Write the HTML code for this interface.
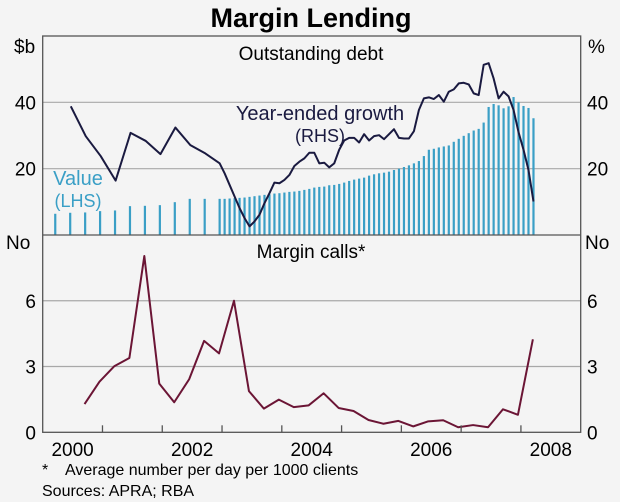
<!DOCTYPE html>
<html><head><meta charset="utf-8"><style>
html,body{margin:0;padding:0;background:#f4f4f4;}
svg{display:block;font-family:"Liberation Sans",Arial,sans-serif;}
</style></head><body>
<svg id="chart" width="620" height="502" viewBox="0 0 620 502">
<rect x="0" y="0" width="620" height="502" fill="#f4f4f4"/>
<text x="311" y="27" text-anchor="middle" font-size="27" font-weight="bold" fill="#000">Margin Lending</text>
<g id="grid"></g>
<g id="bars"></g>
<g id="lines"></g>
<g id="frame"></g>
<g id="labels">
<text x="14" y="53" font-size="19">$b</text>
<text x="588" y="53" font-size="19">%</text>
<text x="6" y="249" font-size="19">No</text>
<text x="585" y="249" font-size="19">No</text>
<text x="311" y="60" text-anchor="middle" font-size="19">Outstanding debt</text>
<text x="320" y="120" text-anchor="middle" font-size="20" fill="#1a1a40">Year-ended growth</text>
<text x="320" y="142" text-anchor="middle" font-size="18" fill="#1a1a40">(RHS)</text>
<text x="78" y="185" text-anchor="middle" font-size="20" fill="#3a9fc6">Value</text>
<text x="78" y="207" text-anchor="middle" font-size="18" fill="#3a9fc6">(LHS)</text>
<text x="311" y="258" text-anchor="middle" font-size="19">Margin calls*</text>
<text x="42" y="475" font-size="16">*</text>
<text x="65" y="475" font-size="16">Average number per day per 1000 clients</text>
<text x="42" y="496" font-size="16">Sources: APRA; RBA</text>
</g>
</svg>
<script>
// ---- data ----
const topTicks = [20, 40];
const bottomTicks = [0, 3, 6];
const yearLabels = [2000, 2002, 2004, 2006, 2008];
const yearTicks = [2001, 2002, 2003, 2004, 2005, 2006, 2007, 2008];
const valueQuarterStart = 2000.21;
const valueQuarterly = [6.4, 6.7, 6.8, 7.2, 7.4, 8.7, 8.8, 9.0, 9.9, 10.9, 10.9];
const monthlyStart = 2002.96;
const valueMonthly = [10.9,10.9,11.0,11.1,11.2,11.3,11.5,11.7,11.9,12.1,12.3,12.5,12.6,12.8,13.0,13.1,
13.3,13.6,13.9,14.3,14.5,14.6,15.0,15.1,15.4,15.8,16.3,16.7,17.0,17.3,17.9,18.3,18.6,18.8,19.1,19.6,
20.0,20.5,21.0,21.6,22.3,23.8,25.7,26.0,26.4,26.7,27.0,28.1,29.0,29.9,30.7,31.5,32.0,33.9,38.6,39.5,
39.1,38.2,38.8,41.6,40.0,38.9,38.3,35.2];
const growthQuarterStart = 2000.47;
const growthQuarterly = [38.8, 29.8, 23.8, 16.4, 30.8, 28.4, 24.4, 32.4, 27.1, 24.6];
const growthMonthly = [21.6,18.6,15.1,11.6,8.1,5.1,2.6,4.1,6.1,9.6,12.6,15.8,15.6,16.6,18.1,20.8,
22.1,23.1,24.8,24.8,21.6,21.8,20.4,21.6,25.7,28.5,29.3,29.3,27.9,30.4,28.5,29.8,30.1,28.9,30.4,31.9,
29.3,29.1,29.1,31.3,37.7,41.2,41.5,41.0,42.2,40.2,43.2,43.9,45.7,45.9,45.4,42.7,42.2,51.3,51.8,47.2,
41.2,43.2,41.8,37.7,31.0,25.7,19.6,10.1];
const callsStart = 2000.7;
const marginCalls = [1.29,2.31,3.02,3.39,8.04,2.22,1.37,2.42,4.17,3.60,6.0,1.88,1.08,1.49,1.15,1.23,
1.78,1.11,0.97,0.56,0.39,0.52,0.27,0.50,0.55,0.23,0.33,0.23,1.05,0.80,4.24];

// ---- axes ----
const L = 42.7, R = 580.7, T = 36, MID = 235, B = 432.3;
const NS = "http://www.w3.org/2000/svg";
function X(yr){ return L + (yr - 2000) / 9 * (R - L); }
function YT(v){ return MID - v / 60 * (MID - T); }
function YB(v){ return B - v / 9 * (B - MID); }
function mk(tag, attrs, parent){
  const e = document.createElementNS(NS, tag);
  for (const k in attrs) e.setAttribute(k, attrs[k]);
  document.getElementById(parent).appendChild(e);
  return e;
}
topTicks.forEach(v => {
  const g = mk('line', {x1:L, x2:R, y1:YT(v), y2:YT(v), stroke:'#a8a8a8', 'stroke-width':1.2}, 'grid');
  
  
  const a = mk('text', {x:36, y:YT(v)+7, 'text-anchor':'end', 'font-size':19}, 'labels');
  a.textContent = v;
  
  
  const b = mk('text', {x:587, y:YT(v)+7, 'font-size':19}, 'labels');
  b.textContent = v;
  
  
});
bottomTicks.forEach(v => {
  if (v > 0) {
    const g = mk('line', {x1:L, x2:R, y1:YB(v), y2:YB(v), stroke:'#a8a8a8', 'stroke-width':1.2}, 'grid');
    
    
  }
  const a = mk('text', {x:36, y:YB(v)+7, 'text-anchor':'end', 'font-size':19}, 'labels');
  a.textContent = v;
  
  
  const b = mk('text', {x:587, y:YB(v)+7, 'font-size':19}, 'labels');
  b.textContent = v;
  
  
});
function bar(yr, v){
  const r = mk('rect', {x:X(yr)-1.1, y:YT(v), width:2.2, height:MID-YT(v), fill:'#3a9fc6'}, 'bars');
  
  
}
valueQuarterly.forEach((v,i) => bar(valueQuarterStart + 0.25*i, v));
valueMonthly.forEach((v,i) => bar(monthlyStart + i/12, v));
const gp = [];
growthQuarterly.forEach((v,i) => gp.push([X(growthQuarterStart + 0.25*i), YT(v)]));
growthMonthly.forEach((v,i) => gp.push([X(monthlyStart + i/12), YT(v)]));
const gl = mk('polyline', {points: gp.map(p => p.join(',')).join(' '), fill:'none', stroke:'#1a1a40', 'stroke-width':2, 'stroke-linejoin':'round'}, 'lines');


const mp = marginCalls.map((v,i) => [X(callsStart + 0.25*i), YB(v)]);
const ml = mk('polyline', {points: mp.map(p => p.join(',')).join(' '), fill:'none', stroke:'#6b1535', 'stroke-width':2, 'stroke-linejoin':'round'}, 'lines');


const fr = mk('rect', {x:L, y:T, width:R-L, height:B-T, fill:'none', stroke:'#555', 'stroke-width':1.3}, 'frame');


const dv = mk('line', {x1:L, x2:R, y1:MID, y2:MID, stroke:'#555', 'stroke-width':1.3}, 'frame');


yearTicks.forEach(y => {
  const t = mk('line', {x1:X(y), x2:X(y), y1:B, y2:B-7, stroke:'#555', 'stroke-width':1.3}, 'frame');
  
  
});
yearLabels.forEach(y => {
  const t = mk('text', {x:X(y+0.5), y:456, 'text-anchor':'middle', 'font-size':19}, 'labels');
  t.textContent = y;
  
  
});
</script>
</body></html>
